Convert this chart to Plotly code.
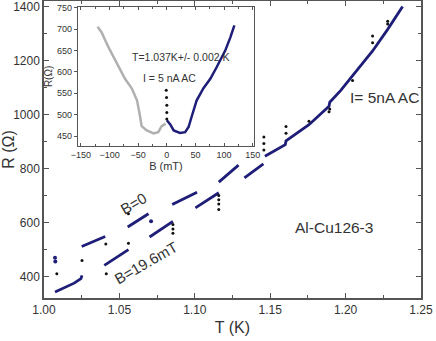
import plotly.graph_objects as go

# ---- main panel data: R (Ohm) vs T (K) ----
# B = 19.6 mT branch (lower steps)
low_T = [1.0073, 1.0200, 1.0245, 1.0252, None, 1.0400, 1.0560, None, 1.0700, 1.0855, None,
         1.1004, 1.1159, None, 1.1329, 1.1455]
low_R = [342, 375, 392, 404, None, 441, 499, None, 546, 604, None,
         654, 710, None, 765, 817]
# B = 0 branch (upper steps) and merged high-T curve
high_T = [1.0250, 1.0406, None, 1.0555, 1.0693, None, 1.0850, 1.1015, None, 1.1159, 1.1290, None,
          1.1465, 1.1600, 1.1605, 1.1757, 1.1890, 1.1895, 1.1968, 1.2046, 1.2179, 1.2279, 1.2378]
high_R = [511, 548, None, 583, 632, None, 666, 712, None, 749, 812, None,
          845, 888, 902, 962, 1030, 1045, 1089, 1142, 1235, 1315, 1400]
# isolated navy points
navy_T = [1.0073, 1.0075, 1.0710]
navy_R = [469, 455, 604]
# black transition points
trans_T = [1.0085, 1.0252, 1.0410, 1.0413, 1.0560, 1.0560, 1.0855, 1.0855, 1.0855,
           1.1159, 1.1159, 1.1159, 1.1159, 1.1458, 1.1458, 1.1458, 1.1605, 1.1605,
           1.1757, 1.1890, 1.1895, 1.2046, 1.2179, 1.2179, 1.2279, 1.2279]
trans_R = [410, 459, 520, 410, 632, 523, 592, 576, 560,
           700, 684, 668, 648, 868, 892, 916, 930, 955,
           975, 1010, 1020, 1126, 1265, 1290, 1335, 1345]

# ---- inset data: R (Ohm) vs B (mT) ----
neg_B = [-121, -114, -102, -87, -73, -61, -52, -47, -44, -35, -23, -15, -9, -2]
neg_R = [706, 693, 658, 619, 584, 561, 533, 498, 473, 463, 456, 459, 473, 479]
pos_B = [0, 6, 12, 23, 32, 38, 44, 52, 64, 76, 87, 94, 102, 111, 118]
pos_R = [487, 477, 463, 457, 459, 471, 498, 533, 562, 584, 611, 628, 650, 681, 709]
spike_B = [-1, -0.5, 0, 0, 0]
spike_R = [557, 540, 522, 505, 490]

NAVY = "#1e1e78"
AX = "#555555"
TXT = "#333333"
FONT = "Liberation Sans, Arial, sans-serif"

fig = go.Figure()
fig.add_trace(go.Scatter(x=low_T, y=low_R, mode="lines", line=dict(color=NAVY, width=2.8),
                         connectgaps=False, showlegend=False))
fig.add_trace(go.Scatter(x=high_T, y=high_R, mode="lines", line=dict(color=NAVY, width=2.8),
                         connectgaps=False, showlegend=False))
fig.add_trace(go.Scatter(x=navy_T, y=navy_R, mode="markers", marker=dict(color=NAVY, size=4),
                         showlegend=False))
fig.add_trace(go.Scatter(x=trans_T, y=trans_R, mode="markers", marker=dict(color="#111111", size=3),
                         showlegend=False))

fig.add_trace(go.Scatter(x=neg_B, y=neg_R, mode="lines", line=dict(color="#b0b0b0", width=2.5),
                         xaxis="x2", yaxis="y2", showlegend=False))
fig.add_trace(go.Scatter(x=pos_B, y=pos_R, mode="lines", line=dict(color=NAVY, width=2.5),
                         xaxis="x2", yaxis="y2", showlegend=False))
fig.add_trace(go.Scatter(x=spike_B, y=spike_R, mode="markers", marker=dict(color="#111111", size=3),
                         xaxis="x2", yaxis="y2", showlegend=False))

axis_common = dict(showline=True, linecolor=AX, linewidth=1.5, mirror="allticks", ticks="inside",
                   tickcolor=AX, ticklen=5, tickwidth=1, showgrid=False, zeroline=False,
                   automargin=False, ticklabeloverflow="allow",
                   tickfont=dict(family=FONT, size=12, color=TXT))

fig.update_layout(
    width=436, height=341,
    margin=dict(l=44, r=15, t=1, b=43),
    paper_bgcolor="white", plot_bgcolor="white",
    font=dict(family=FONT, color=TXT),
    xaxis=dict(**axis_common, range=[1.0, 1.25], dtick=0.05, tick0=1.0, tickformat=".2f",
               minor=dict(ticks="inside", dtick=0.025, ticklen=3, tickcolor=AX),
               title=dict(text="T (K)", font=dict(family=FONT, size=16, color=TXT), standoff=6)),
    yaxis=dict(**axis_common, range=[320, 1420], dtick=200, tick0=0,
               minor=dict(ticks="inside", dtick=100, ticklen=3, tickcolor=AX),
               title=dict(text="R (Ω)", font=dict(family=FONT, size=16, color=TXT), standoff=2)),
    xaxis2=dict(domain=[0.0895, 0.5575], anchor="y2", range=[-155.6, 152.6], dtick=50, tick0=0,
                showline=True, linecolor=AX, linewidth=1, mirror="allticks", ticks="inside",
                ticklen=3, tickcolor=AX, showgrid=False, zeroline=False, automargin=False,
                minor=dict(ticks="inside", dtick=25, ticklen=2, tickcolor=AX),
                tickfont=dict(family=FONT, size=9, color=TXT),
                title=dict(text="B (mT)", font=dict(family=FONT, size=11, color=TXT), standoff=2)),
    yaxis2=dict(domain=[0.5123, 0.9798], anchor="x2", range=[427, 752], dtick=50, tick0=0,
                showline=True, linecolor=AX, linewidth=1, mirror=True, ticks="outside",
                ticklen=3, tickcolor=AX, showgrid=False, zeroline=False, automargin=False,
                tickfont=dict(family=FONT, size=9, color=TXT),
                title=dict(text="R(Ω)", font=dict(family=FONT, size=10, color=TXT), standoff=2)),
)

ann = [
    dict(x=1.2261, y=1063, xref="x", yref="y", text="I= 5nA AC", size=15.5, angle=0),
    dict(x=1.1922, y=581, xref="x", yref="y", text="Al-Cu126-3", size=15.5, angle=0),
    dict(x=1.0592, y=670, xref="x", yref="y", text="B=0", size=15, angle=-30),
    dict(x=1.0678, y=452, xref="x", yref="y", text="B=19.6mT", size=15, angle=-30),
    dict(x=23.2, y=636, xref="x2", yref="y2", text="T=1.037K+/- 0.002 K", size=10.5, angle=0),
    dict(x=4, y=585, xref="x2", yref="y2", text="I = 5 nA AC", size=10.5, angle=0),
]
for a in ann:
    fig.add_annotation(x=a["x"], y=a["y"], xref=a["xref"], yref=a["yref"], text=a["text"],
                       showarrow=False, textangle=a["angle"],
                       font=dict(family=FONT, size=a["size"], color=TXT))

fig.write_html("out.html", config={"displayModeBar": False},
               post_script="document.body.style.margin='0px';document.body.style.overflow='hidden';")
